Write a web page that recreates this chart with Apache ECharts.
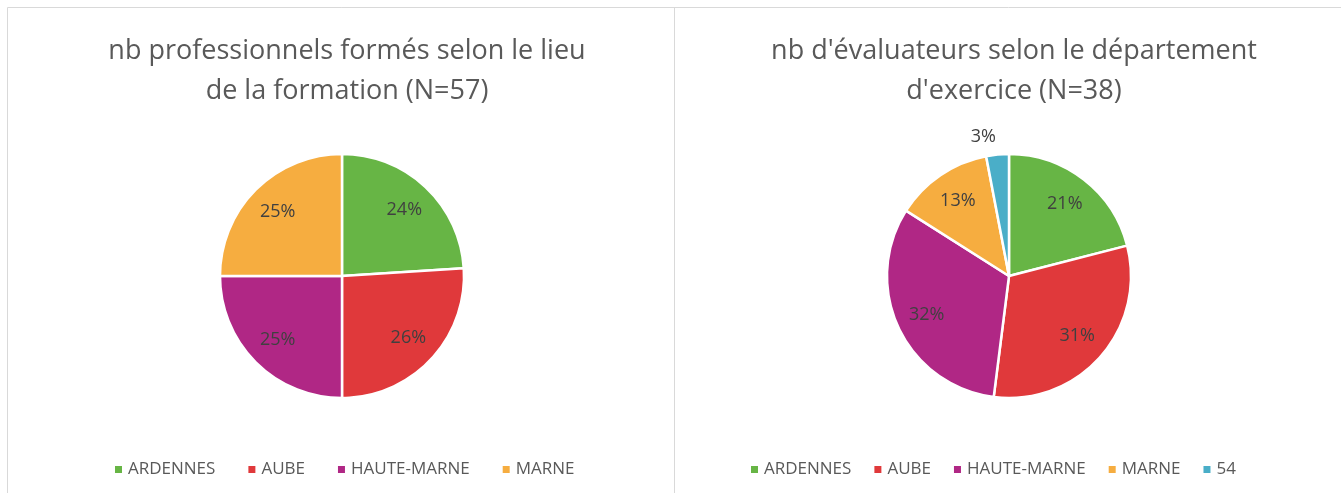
<!DOCTYPE html>
<html>
<head>
<meta charset="utf-8">
<script src="https://cdn.jsdelivr.net/npm/echarts@6/dist/echarts.min.js"></script>
<style>
  html, body { margin: 0; padding: 0; background: #fff; }
  #chart { width: 1341px; height: 493px; }
</style>
</head>
<body>
<div id="chart"></div>
<script>
  // donnees (en %)
  const leftTitle = 'nb professionnels formés selon le lieu\nde la formation (N=57)';
  const rightTitle = "nb d'évaluateurs selon le département\nd'exercice (N=38)";
  const leftNames = ['ARDENNES', 'AUBE', 'HAUTE-MARNE', 'MARNE'];
  const leftValues = [24, 26, 25, 25];
  const rightNames = ['ARDENNES', 'AUBE', 'HAUTE-MARNE', 'MARNE', '54'];
  const rightValues = [21, 31, 32, 13, 3];
  const colors = ['#67b545', '#e0393b', '#b02785', '#f6ad40', '#4aaec8'];

  const font = '"Open Sans", "Noto Sans", sans-serif';
  const chart = echarts.init(document.getElementById('chart'));

  // parts colorees (sans etiquette)
  function pieSeries(center, names, values) {
    return {
      type: 'pie',
      center: center,
      radius: 122,
      startAngle: 90,
      clockwise: true,
      silent: true,
      itemStyle: { borderColor: '#fff', borderWidth: 2.5 },
      label: { show: false },
      labelLine: { show: false },
      data: names.map((n, i) => ({ name: n, value: values[i], itemStyle: { color: colors[i] } }))
    };
  }

  // meme donnees, anneau transparent : sert a placer les etiquettes plus loin du centre
  function labelSeries(center, names, values) {
    return {
      type: 'pie',
      center: center,
      radius: [54, 122],
      startAngle: 90,
      clockwise: true,
      silent: true,
      legendHoverLink: false,
      itemStyle: { color: 'rgba(0,0,0,0)' },
      label: {
        position: 'inner',
        formatter: '{d}%',
        color: '#404040',
        fontSize: 18,
        fontFamily: font
      },
      labelLine: { show: false },
      data: names.map((n, i) => {
        let item = { name: n, value: values[i] };
        if (values[i] < 5) {
          item.label = { position: 'outside', align: 'center', distanceToLabelLine: 0 };
          item.labelLine = { show: false, length: 18, length2: 0 };
        }
        return item;
      })
    };
  }

  const titleStyle = {
    color: '#595959',
    fontSize: 27,
    fontWeight: 'normal',
    fontFamily: font,
    lineHeight: 40
  };

  const legendText = { color: '#595959', fontSize: 17, fontFamily: font };

  chart.setOption({
    animation: false,
    title: [{
      text: leftTitle,
      left: 342,
      top: 26,
      textAlign: 'center',
      textStyle: titleStyle
    }, {
      text: rightTitle,
      left: 1009,
      top: 26,
      textAlign: 'center',
      textStyle: titleStyle
    }],
    legend: [{
      data: leftNames,
      left: 108,
      top: 456,
      icon: 'rect',
      itemWidth: 9,
      itemHeight: 9,
      itemGap: 31,
      selectedMode: false,
      textStyle: legendText
    }, {
      data: rightNames,
      left: 744,
      top: 456,
      icon: 'rect',
      itemWidth: 9,
      itemHeight: 9,
      itemGap: 21,
      selectedMode: false,
      textStyle: legendText
    }],
    graphic: [{
      type: 'rect',
      shape: { x: 7.5, y: 7.5, width: 1340, height: 500 },
      style: { fill: 'none', stroke: '#d9d9d9', lineWidth: 1 },
      silent: true
    }, {
      type: 'line',
      shape: { x1: 674.5, y1: 7, x2: 674.5, y2: 493 },
      style: { stroke: '#d9d9d9', lineWidth: 1 },
      silent: true
    }],
    series: [
      pieSeries([342, 276], leftNames, leftValues),
      pieSeries([1009, 276], rightNames, rightValues),
      labelSeries([342, 276], leftNames, leftValues),
      labelSeries([1009, 276], rightNames, rightValues)
    ]
  });
</script>
</body>
</html>
